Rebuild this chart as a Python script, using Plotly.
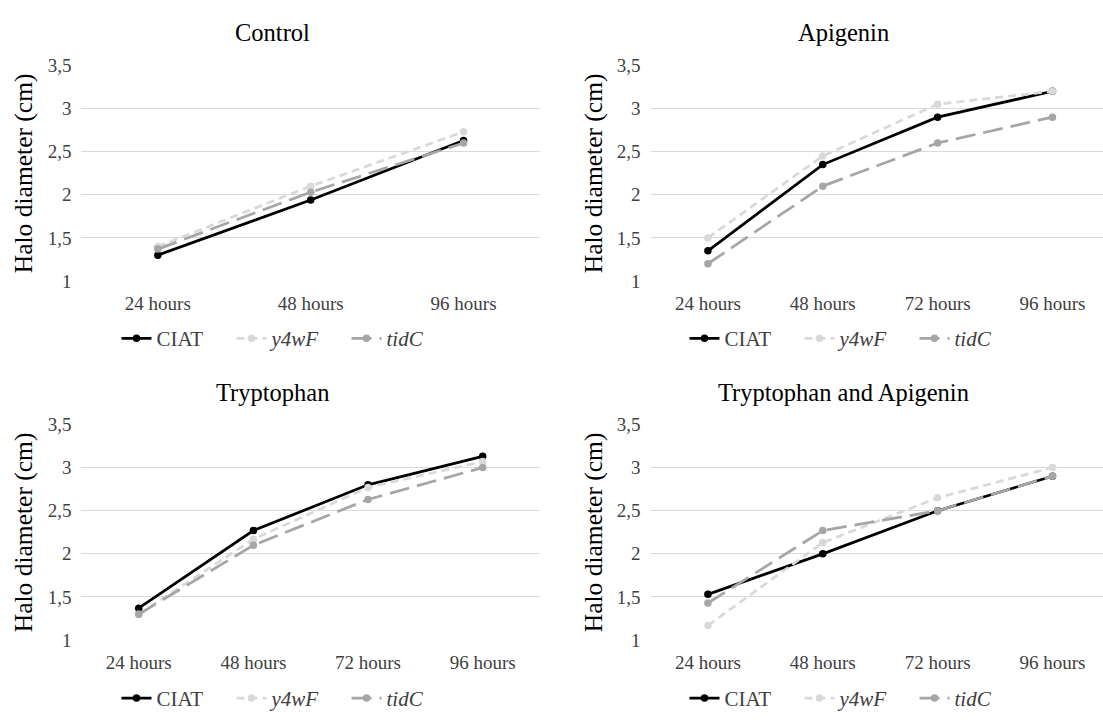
import plotly.graph_objects as go

# ---------------- data ----------------
cats_control = ["24 hours", "48 hours", "96 hours"]
cats_full = ["24 hours", "48 hours", "72 hours", "96 hours"]

control_ciat = [1.30, 1.94, 2.63]
control_y4wf = [1.40, 2.10, 2.73]
control_tidc = [1.37, 2.03, 2.60]

apigenin_ciat = [1.35, 2.35, 2.90, 3.20]
apigenin_y4wf = [1.50, 2.45, 3.05, 3.20]
apigenin_tidc = [1.20, 2.10, 2.60, 2.90]

tryptophan_ciat = [1.37, 2.27, 2.80, 3.13]
tryptophan_y4wf = [1.30, 2.17, 2.77, 3.07]
tryptophan_tidc = [1.30, 2.10, 2.63, 3.00]

trp_api_ciat = [1.53, 2.00, 2.50, 2.90]
trp_api_y4wf = [1.17, 2.13, 2.65, 3.00]
trp_api_tidc = [1.43, 2.27, 2.50, 2.90]

panel_titles = ["Control", "Apigenin", "Tryptophan", "Tryptophan and Apigenin"]
series_names = ["CIAT", "<i>y4wF</i>", "<i>tidC</i>"]
y_tickvals = [1, 1.5, 2, 2.5, 3, 3.5]
y_ticktext = ["1", "1,5", "2", "2,5", "3", "3,5"]
y_title = "Halo diameter (cm)"

# ---------------- styling ----------------
W, H = 1103, 722
FONT = "Liberation Serif"
styles = [
    dict(color="#000000", dash="solid"),
    dict(color="#d9d9d9", dash="8px,5px"),
    dict(color="#a6a6a6", dash="20px,8px"),
]
GRID = "#d9d9d9"
TICKC = "#404040"

panels = [
    (cats_control, [control_ciat, control_y4wf, control_tidc]),
    (cats_full, [apigenin_ciat, apigenin_y4wf, apigenin_tidc]),
    (cats_full, [tryptophan_ciat, tryptophan_y4wf, tryptophan_tidc]),
    (cats_full, [trp_api_ciat, trp_api_y4wf, trp_api_tidc]),
]

def px_x(p):
    return p / W

def px_y(p):
    return 1 - p / H

x_left = [px_x(81.4), px_x(540.0)]
x_right = [px_x(650.5), 1.0]
y_top = [px_y(279.0), px_y(56.7)]
y_bot = [px_y(648.3), px_y(426.0)]

domains = [(x_left, y_top), (x_right, y_top), (x_left, y_bot), (x_right, y_bot)]
xranges = [[-0.5, 2.5], [-0.5, 3.44], [-0.5, 3.5], [-0.5, 3.44]]

fig = go.Figure()
layout = dict(
    width=W, height=H,
    margin=dict(l=0, r=0, t=0, b=0),
    paper_bgcolor="white", plot_bgcolor="white",
    font=dict(family=FONT, color="#000000"),
    showlegend=True,
    annotations=[],
)

legend_pos = [(289, 338), (857, 338), (289, 708), (857, 708)]
title_pos = [(272, 23), (843, 23), (272, 393), (843, 393)]
ytitle_x = [23, 593]

for i, (cats, series) in enumerate(panels):
    k = "" if i == 0 else str(i + 1)
    xa, ya = "x" + k, "y" + k
    leg = "legend" + k
    for j, vals in enumerate(series):
        st = styles[j]
        fig.add_trace(go.Scatter(
            x=cats, y=vals, name=series_names[j],
            mode="lines+markers",
            line=dict(color=st["color"], width=2.75, dash=st["dash"]),
            marker=dict(color=st["color"], size=7.5, symbol="circle"),
            xaxis=xa, yaxis=ya, legend=leg, cliponaxis=False,
        ))
    xd, yd = domains[i]
    layout["xaxis" + k] = dict(
        domain=xd, anchor=ya, type="category", range=xranges[i],
        showgrid=False, zeroline=False, showline=False, ticks="",
        tickfont=dict(family=FONT, size=19, color=TICKC),
        ticklabelstandoff=9,
    )
    layout["yaxis" + k] = dict(
        domain=yd, anchor=xa, range=[0.997, 3.503],
        tickvals=y_tickvals, ticktext=y_ticktext,
        showgrid=True, gridcolor=GRID, gridwidth=1,
        zeroline=False, showline=False, ticks="",
        tickfont=dict(family=FONT, size=19, color=TICKC),
        ticklabelstandoff=9,
    )
    lx, ly = legend_pos[i]
    layout[leg] = dict(
        orientation="h", x=px_x(lx), y=px_y(ly),
        xanchor="center", yanchor="middle",
        font=dict(family=FONT, size=21, color=TICKC),
        bgcolor="rgba(0,0,0,0)", itemwidth=30,
        entrywidth=70, entrywidthmode="pixels",
        traceorder="normal",
    )
    tx, ty = title_pos[i]
    layout["annotations"].append(dict(
        text=panel_titles[i], x=px_x(tx), y=px_y(ty),
        xref="paper", yref="paper", xanchor="center", yanchor="middle",
        showarrow=False, font=dict(family=FONT, size=24.5, color="#000000"),
    ))
    ycenter = (H * (1 - yd[0]) + H * (1 - yd[1])) / 2
    layout["annotations"].append(dict(
        text=y_title, x=px_x(ytitle_x[i % 2]), y=px_y(ycenter),
        xref="paper", yref="paper", xanchor="center", yanchor="middle",
        textangle=-90, showarrow=False,
        font=dict(family=FONT, size=25.5, color="#000000"),
    ))

fig.update_layout(**layout)
fig.write_html("out.html")
